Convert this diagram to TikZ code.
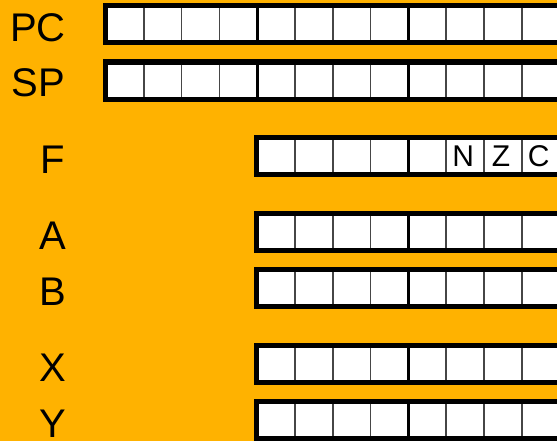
\documentclass[tikz,border=0pt]{standalone}
\usepackage{fontspec}
\setmainfont{Liberation Sans}
\definecolor{bg}{RGB}{255,178,0}
\definecolor{sepgray}{RGB}{70,70,70}
\begin{document}
\begin{tikzpicture}[x=1pt,y=-1pt,
  lbl/.style={font=\fontsize{40}{40}\selectfont, anchor=base, inner sep=0pt},
  flag/.style={font=\fontsize{30}{30}\selectfont, anchor=base, inner sep=0pt},
  thinsep/.style={draw=sepgray, line width=1.7pt},
  thicksep/.style={draw=black, line width=3pt}]
\useasboundingbox (0,0) rectangle (557,441);
\fill[bg] (0,0) rectangle (557,441);
\begin{scope}
\clip (0,0) rectangle (557,441);
\foreach \nm/\T/\lo/\hi in {pc/2.7/0/16, sp/59.3/0/16, f/135/4/12, a/210.5/4/12, b/266.5/4/12, x/342.7/4/12, y/399/4/12}{
  \pgfmathsetmacro\xl{102.5+37.8*\lo}
  \pgfmathsetmacro\xr{106+37.8*\hi+5.5}
  \fill[black] (\xl,\T) rectangle (\xr,\T+42.3);
  \fill[white] (\xl+5.6,\T+5.3) rectangle (\xr-5.5,\T+37.3);
  \pgfmathtruncatemacro\s{\lo+1}
  \pgfmathtruncatemacro\e{\hi-1}
  \foreach \i in {\s,...,\e}{
    \pgfmathtruncatemacro\m{mod(\i,4)}
    \pgfmathsetmacro\xs{106+37.8*\i}
    \ifnum\m=0
      \draw[thicksep] (\xs,\T+5.3) -- (\xs,\T+37.3);
    \else
      \draw[thinsep] (\xs,\T+5.3) -- (\xs,\T+37.3);
    \fi
  }
}
\end{scope}
% register names
\node[lbl] (lpc) at (38,41.7) {PC};
\node[lbl] (lsp) at (38,96.3) {SP};
\node[lbl] (lf) at (52.8,174) {F};
\node[lbl] (la) at (52.8,249.3) {A};
\node[lbl] (lb) at (52.8,305) {B};
\node[lbl] (lx) at (52.8,381.7) {X};
\node[lbl] (ly) at (52.8,437) {Y};
% flag bits
\node[flag] (fn) at (463.2,166.7) {N};
\node[flag] (fz) at (501,166.7) {Z};
\node[flag] (fc) at (538.8,166.7) {C};
\end{tikzpicture}
\end{document}
